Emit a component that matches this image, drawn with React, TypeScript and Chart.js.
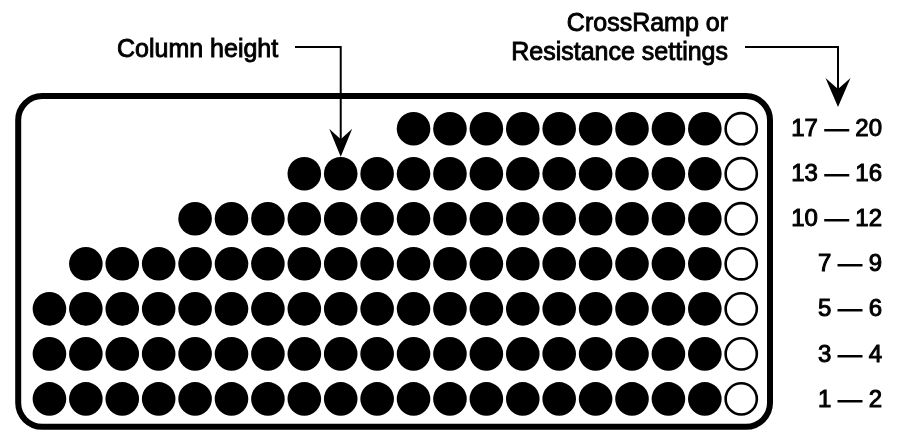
import React, { useEffect, useRef } from "react";
import { Chart, registerables } from "chart.js";

Chart.register(...registerables);

// Row labels (bottom row first)
const rowLabels = ["1 — 2", "3 — 4", "5 — 6", "7 — 9", "10 — 12", "13 — 16", "17 — 20"];
// Number of dots shown in each row (bottom row first), last one is the hollow indicator
const dotsPerRow = [20, 20, 20, 19, 16, 13, 10];
const totalColumns = 20;
const columnArrowTarget = { column: 8, row: 5 };
const annotationLeft = "Column height";
const annotationRight = ["CrossRamp or", "Resistance settings"];

const FONT = '"Liberation Sans", Arial, Helvetica, sans-serif';

function arrowHead(ctx: CanvasRenderingContext2D, x: number, tipY: number, w: number, h: number) {
  ctx.beginPath();
  ctx.moveTo(x, tipY);
  ctx.lineTo(x - w / 2, tipY - h);
  ctx.lineTo(x, tipY - h * 0.62);
  ctx.lineTo(x + w / 2, tipY - h);
  ctx.closePath();
  ctx.fill();
}

function mediumText(ctx: CanvasRenderingContext2D, t: string, x: number, y: number) {
  ctx.fillText(t, x, y);
  ctx.strokeText(t, x, y);
}

const decorPlugin = {
  id: "decor",
  beforeDatasetsDraw(chart: any) {
    const { ctx, chartArea } = chart;
    ctx.save();
    ctx.strokeStyle = "#000";
    ctx.lineWidth = 6;
    ctx.beginPath();
    ctx.roundRect(chartArea.left, chartArea.top, chartArea.right - chartArea.left, chartArea.bottom - chartArea.top, 24);
    ctx.stroke();
    ctx.restore();
  },
  afterDatasetsDraw(chart: any) {
    const { ctx } = chart;
    const xs = chart.scales.x;
    const ys = chart.scales.y;
    ctx.save();
    ctx.fillStyle = "#000";
    ctx.strokeStyle = "#000";
    // row labels
    ctx.font = `24px ${FONT}`;
    ctx.textAlign = "right";
    ctx.textBaseline = "middle";
    ctx.lineWidth = 1.0;
    const labelRight = 882;
    rowLabels.forEach((lab, r) => {
      mediumText(ctx, lab, labelRight, ys.getPixelForValue(r) + 1);
    });

    // annotations
    ctx.font = `25px ${FONT}`;
    ctx.textBaseline = "alphabetic";
    ctx.textAlign = "left";
    ctx.lineWidth = 0.9;
    mediumText(ctx, annotationLeft, 117, 57);
    ctx.textAlign = "right";
    mediumText(ctx, annotationRight[0], 728, 31);
    mediumText(ctx, annotationRight[1], 728, 60);

    // column height leader
    const lineY = 47;
    const ax = xs.getPixelForValue(columnArrowTarget.column);
    const tipY = ys.getPixelForValue(columnArrowTarget.row) - 17;
    ctx.lineWidth = 2;
    ctx.beginPath();
    ctx.moveTo(295, lineY);
    ctx.lineTo(ax, lineY);
    ctx.lineTo(ax, tipY - 10);
    ctx.stroke();
    arrowHead(ctx, ax, tipY, 23, 28);

    // settings leader
    const bx = labelRight - 44;
    const tip2 = 107;
    ctx.beginPath();
    ctx.moveTo(745, lineY);
    ctx.lineTo(bx, lineY);
    ctx.lineTo(bx, tip2 - 10);
    ctx.stroke();
    arrowHead(ctx, bx, tip2, 25, 29);
    ctx.restore();
  },
};

export default function App() {
  const ref = useRef<HTMLCanvasElement | null>(null);
  useEffect(() => {
    if (!ref.current) return;
    const filled: { x: number; y: number }[] = [];
    const hollow: { x: number; y: number }[] = [];
    dotsPerRow.forEach((n, r) => {
      for (let c = totalColumns - n; c < totalColumns - 1; c++) filled.push({ x: c, y: r });
      hollow.push({ x: totalColumns - 1, y: r });
    });
    const chart = new Chart(ref.current, {
      type: "scatter",
      data: {
        datasets: [
          {
            data: filled,
            pointRadius: 16.8,
            pointHoverRadius: 16.8,
            pointBackgroundColor: "#000",
            pointBorderWidth: 0,
            borderWidth: 0,
            clip: false as any,
          },
          {
            data: hollow,
            pointRadius: 15.6,
            pointHoverRadius: 15.6,
            pointBackgroundColor: "#fff",
            pointBorderColor: "#000",
            pointBorderWidth: 2.6,
            clip: false as any,
          },
        ],
      },
      options: {
        animation: false,
        responsive: false,
        devicePixelRatio: 1,
        events: [],
        layout: { padding: { left: 12, right: 128, top: 96, bottom: 5 } },
        scales: {
          x: { type: "linear", display: false, min: -0.858, max: 19.79 },
          y: { type: "linear", display: false, min: -0.619, max: 6.726 },
        },
        plugins: { legend: { display: false }, tooltip: { enabled: false } },
      },
      plugins: [decorPlugin],
    });
    return () => chart.destroy();
  }, []);
  return (
    <div style={{ position: "absolute", left: 0, top: 0, width: 898, height: 445, background: "#fff" }}>
      <canvas ref={ref} width={898} height={445} style={{ width: 898, height: 445 }} />
    </div>
  );
}
